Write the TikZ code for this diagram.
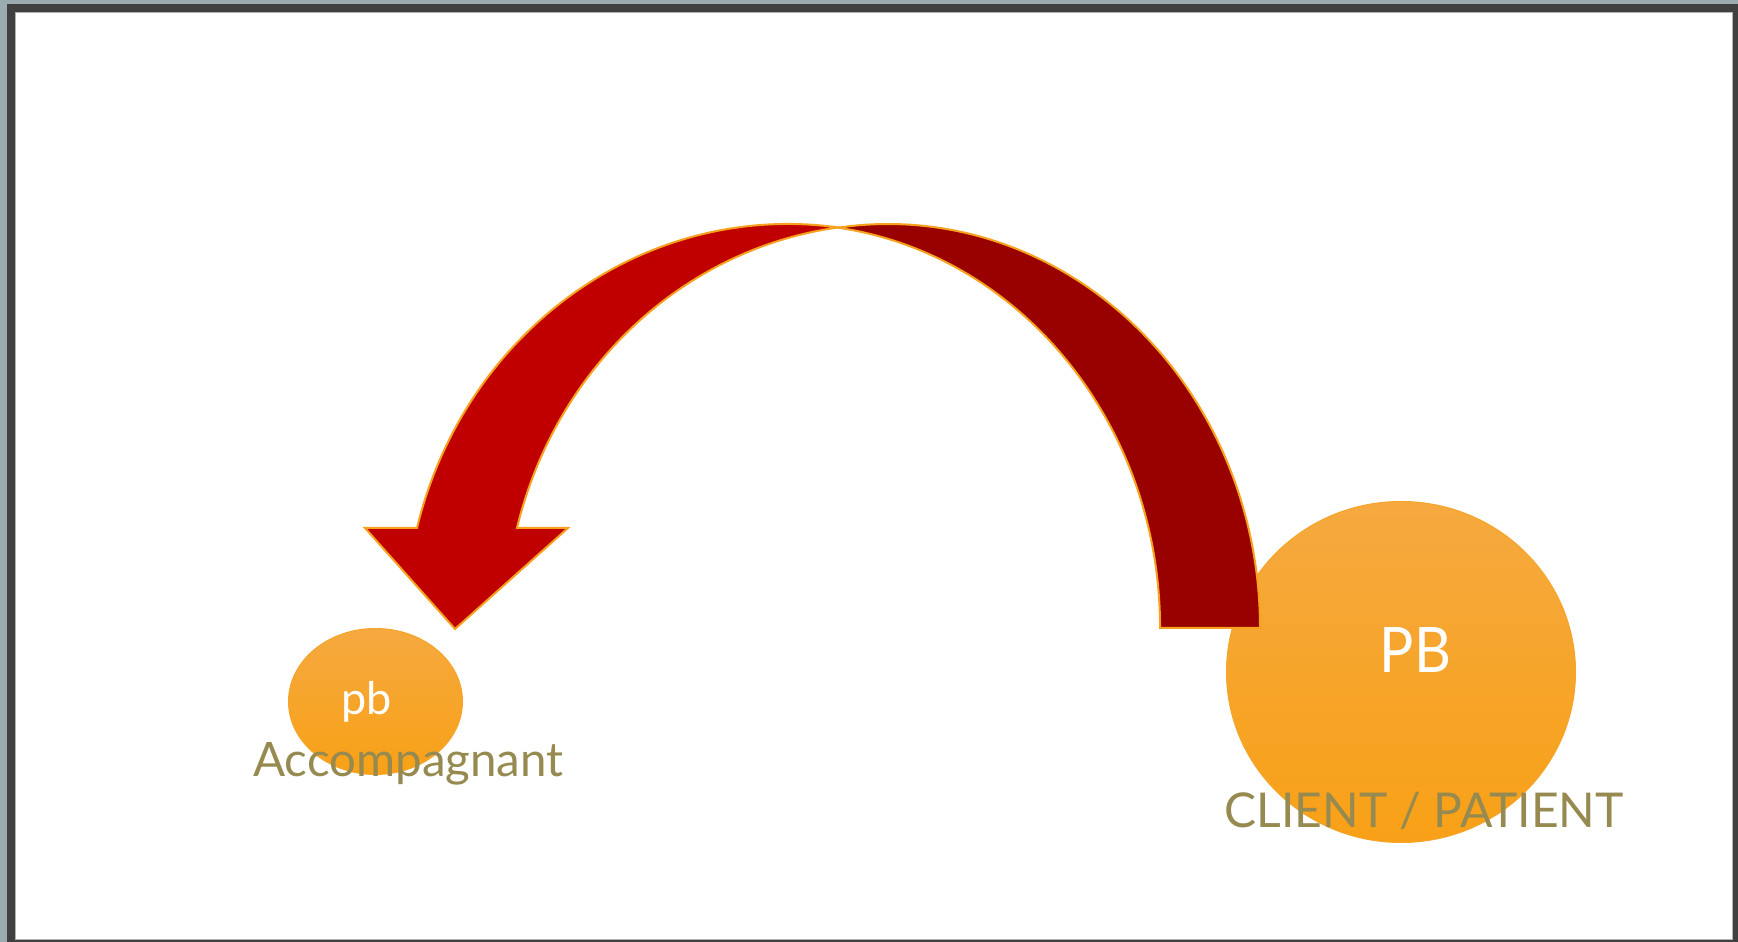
\documentclass[tikz,border=0pt]{standalone}
\usepackage{fontspec}
\setmainfont{Lato}
\usetikzlibrary{shapes.geometric}
\definecolor{frameblue}{HTML}{9AABB1}
\definecolor{framedark}{HTML}{404040}
\definecolor{redL}{HTML}{C00000}
\definecolor{redD}{HTML}{990000}
\definecolor{arrowedge}{HTML}{F7A21F}
\definecolor{orTop}{HTML}{F5A93F}
\definecolor{orBot}{HTML}{F8A117}
\definecolor{orEdge}{HTML}{F6A52A}
\definecolor{olive}{HTML}{968A50}
\tikzset{
  bubble/.style={ellipse, draw=orEdge, line width=1pt, top color=orTop, bottom color=orBot, inner sep=0pt},
  bandL/.style={draw=arrowedge, line width=2pt, fill=redL, line join=miter},
  bandD/.style={draw=arrowedge, line width=2pt, fill=redD, line join=miter},
  inlabel/.style={text=white, inner sep=0pt, anchor=base},
  caption/.style={text=olive, inner sep=0pt, anchor=base}
}
\begin{document}
\begin{tikzpicture}[x=1pt,y=1pt]
\useasboundingbox (0,0) rectangle (1738,942);
% frame
\fill[frameblue] (0,0) rectangle (1738,942);
\fill[framedark] (7,0) rectangle (1738,938);
\fill[white, draw=gray!60, line width=0.8pt] (15,3) rectangle (1732,930);
% circles
\node[bubble, minimum width=174pt, minimum height=146pt] (small) at (375.5,240.5) {};
\node[bubble, minimum width=349pt, minimum height=341pt] (big) at (1401,270) {};
% right (dark) band
\draw[bandD] (1260,314) arc[start angle=0, end angle=97.72, x radius=372pt, y radius=404pt]
  arc[start angle=82.28, end angle=0, x radius=372pt, y radius=404pt] -- cycle;
% left (red) curved arrow
\draw[bandL] (417,414) arc[start angle=165.67, end angle=82.5, x radius=383pt, y radius=404pt]
  arc[start angle=97.5, end angle=165.67, x radius=383pt, y radius=404pt]
  -- (568,414) -- (455,313) -- (365,414) -- cycle;
% texts
\node[inlabel, font=\fontsize{45}{52}\selectfont] (pbt) at (366.5,227) {pb};
\node[inlabel, font=\fontsize{62.8}{70}\selectfont, xscale=0.91, transform shape] (PBt) at (1415.5,269) {PB};
\node[caption, font=\fontsize{47.5}{56}\selectfont] (acc) at (408.5,165) {Accompagnant};
\node[caption, font=\fontsize{48}{56}\selectfont] (cli) at (1424,114) {CLIENT / PATIENT};
\end{tikzpicture}
\end{document}
